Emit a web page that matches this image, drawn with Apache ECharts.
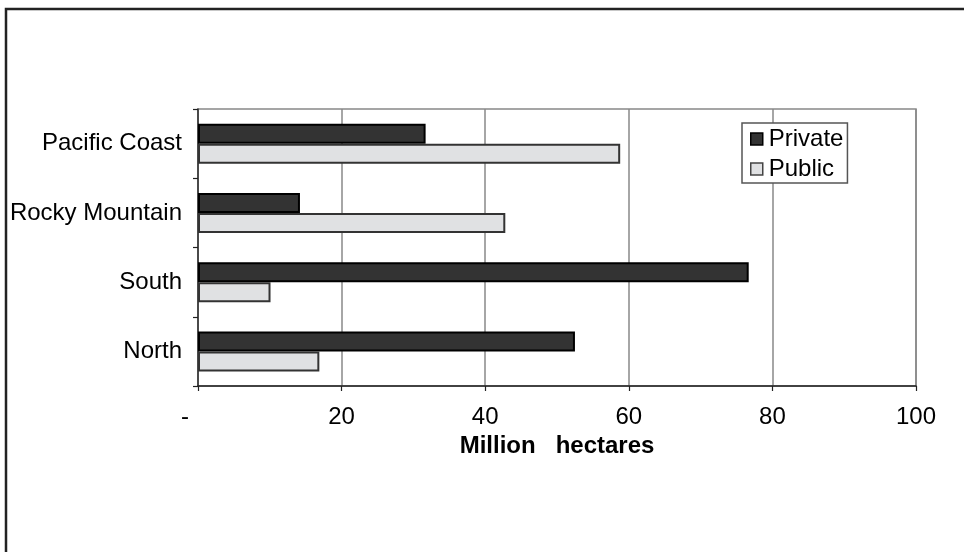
<!DOCTYPE html>
<html>
<head>
<meta charset="utf-8">
<script src="https://cdn.jsdelivr.net/npm/echarts@6/dist/echarts.min.js"></script>
<style>
html,body{margin:0;padding:0;background:#fff;}
#chart{width:964px;height:552px;}
</style>
</head>
<body>
<div id="chart"></div>
<script>
// Data (bottom-to-top category order, as ECharts draws a category y-axis)
var regions = ['North', 'South', 'Rocky Mountain', 'Pacific Coast'];
var privateLand = [52.5, 76.7, 14.2, 31.7];
var publicLand = [16.9, 10.1, 42.8, 58.8];
var xTicks = [0, 20, 40, 60, 80, 100];
var seriesNames = ['Private', 'Public'];
var axisTitle = 'Million   hectares';

var FONT = '"Liberation Sans", Arial, sans-serif';
var chart = echarts.init(document.getElementById('chart'), null, {renderer: 'canvas'});
chart.setOption({
  animation: false,
  backgroundColor: '#ffffff',
  textStyle: {fontFamily: FONT, color: '#000'},
  grid: {left: 198, right: 48, top: 109, bottom: 166, containLabel: false,
         show: true, borderColor: '#888', borderWidth: 1.5, backgroundColor: 'transparent'},
  legend: {
    orient: 'vertical', left: 742, top: 123,
    padding: [4, 4, 2, 8],
    itemGap: 6,
    itemWidth: 12, itemHeight: 12,
    borderColor: '#555', borderWidth: 1.5,
    backgroundColor: '#fff',
    textStyle: {fontFamily: FONT, fontSize: 24, color: '#000', padding: [2, 0, 0, 1]},
    data: [
      {name: seriesNames[0], icon: 'rect', itemStyle: {color: '#333', borderColor: '#000', borderWidth: 1.5}},
      {name: seriesNames[1], icon: 'rect', itemStyle: {color: '#e0e1e3', borderColor: '#444', borderWidth: 1.5}}
    ]
  },
  xAxis: {
    type: 'value', min: xTicks[0], max: xTicks[xTicks.length - 1], interval: 20,
    name: axisTitle, nameLocation: 'middle', nameGap: 41,
    nameTextStyle: {fontFamily: FONT, fontSize: 24, fontWeight: 'bold', color: '#000'},
    axisLine: {show: true, lineStyle: {color: '#222', width: 1.5}},
    axisTick: {show: true, length: 5, lineStyle: {color: '#222', width: 1.2}},
    axisLabel: {
      fontFamily: FONT, fontSize: 24, color: '#000', margin: 19,
      formatter: function (v) { return v === 0 ? '{d|-}' : String(v); },
      rich: {d: {fontFamily: FONT, fontSize: 24, color: '#000', padding: [0, 26, 0, 0]}}
    },
    splitLine: {show: true, lineStyle: {color: '#888', width: 1.5}}
  },
  yAxis: {
    type: 'category', data: regions,
    axisLine: {show: true, lineStyle: {color: '#333', width: 1.5}},
    axisTick: {show: true, length: 5, lineStyle: {color: '#222', width: 1.2}},
    axisLabel: {fontFamily: FONT, fontSize: 24, color: '#000', margin: 16},
    splitLine: {show: false}
  },
  series: [
    {
      name: seriesNames[0], type: 'bar', data: privateLand,
      barWidth: 20, barGap: '0%',
      itemStyle: {color: '#333333', borderColor: '#000', borderWidth: 2}
    },
    {
      name: seriesNames[1], type: 'bar', data: publicLand,
      barWidth: 20, barGap: '0%',
      itemStyle: {color: '#e0e1e3', borderColor: '#333', borderWidth: 2}
    }
  ],
  graphic: [
    {type: 'polyline', silent: true, z: 100,
     shape: {points: [[6, 552], [6, 9], [964, 9]]},
     style: {stroke: '#222', lineWidth: 2.5, fill: null}}
  ]
});
</script>
</body>
</html>
